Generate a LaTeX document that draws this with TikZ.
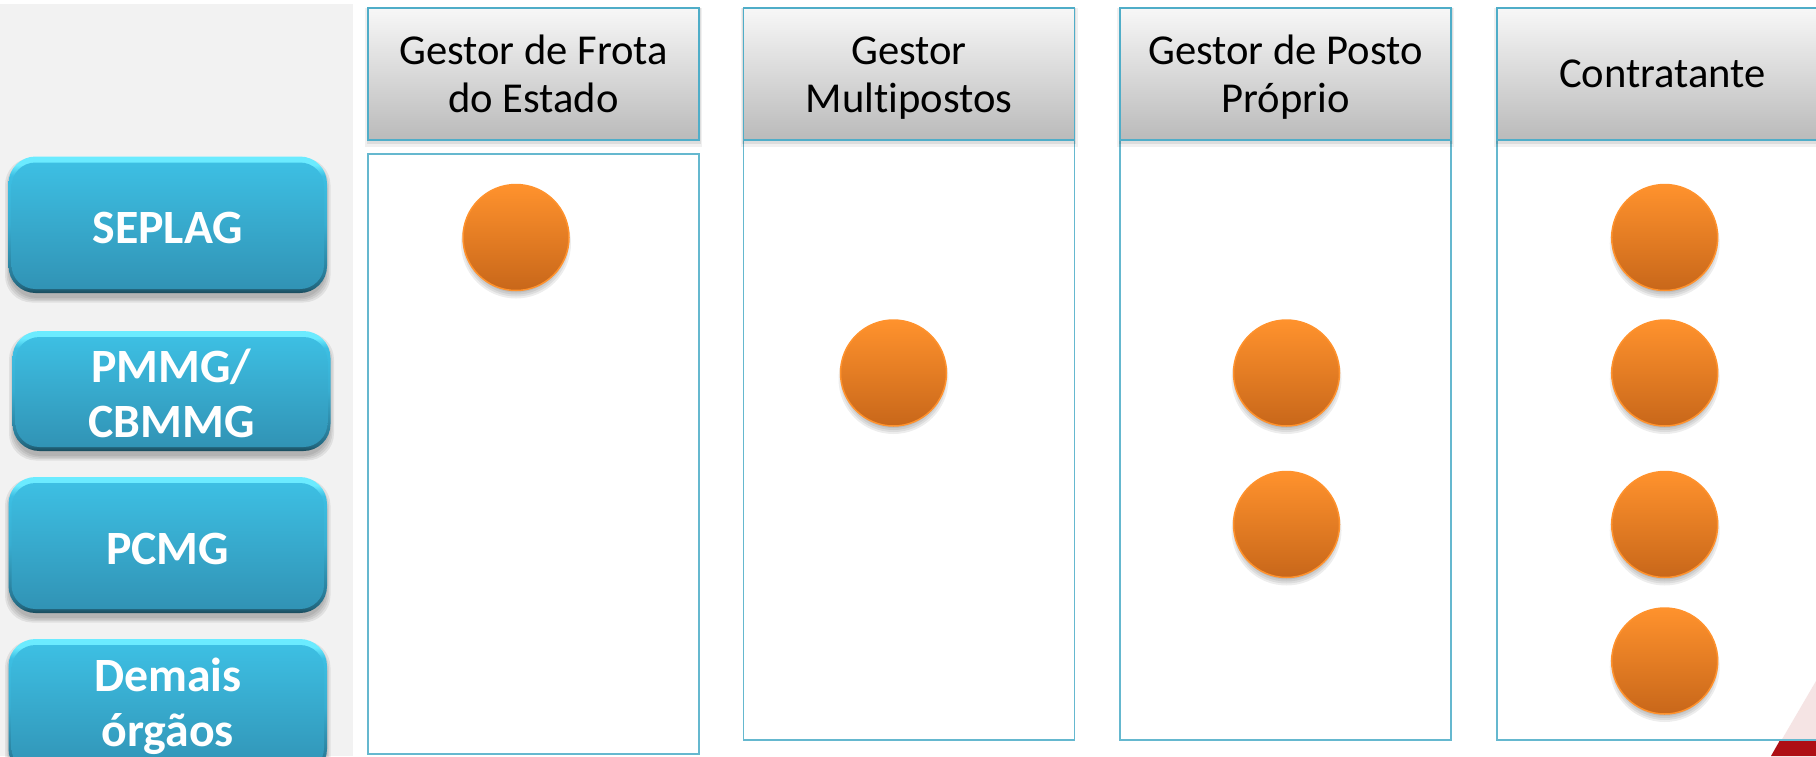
\documentclass[tikz,border=0pt]{standalone}
\usepackage{fontspec}
\setmainfont[Ligatures=NoCommon]{Carlito}
\usetikzlibrary{calc}
\definecolor{panelgrey}{HTML}{F2F2F2}
\definecolor{frameblue}{HTML}{65B8CF}
\definecolor{headblue}{HTML}{4FADC8}
\definecolor{btntop}{HTML}{3DBFE3}
\definecolor{btnbot}{HTML}{3193B5}
\definecolor{hicol}{HTML}{6BEBFF}
\definecolor{cirtop}{HTML}{FF922D}
\definecolor{cirbot}{HTML}{C8671A}
\definecolor{palelogo}{HTML}{F5E4E4}
\definecolor{redlogo}{HTML}{AE0F14}
\pgfdeclareverticalshading{bevelshade}{100bp}{color(0bp)=(btnbot!50!black);
  color(25bp)=(btnbot!50!black);color(27bp)=(btnbot!70!black);color(32bp)=(btnbot!85!black);color(50bp)=(btntop!60!btnbot);
  color(68bp)=(btntop);color(72bp)=(hicol);color(75bp)=(hicol);color(100bp)=(hicol)}
\tikzset{
  x=1pt,y=-1pt,
  colbody/.style={draw=frameblue,line width=1.7pt,fill=white},
  heading/.style={draw=headblue,line width=1.8pt,outer sep=0pt,top color=white!97!black,bottom color=white!73!black,
    inner sep=0pt},
  headtext/.style={align=center,font=\fontsize{42.6}{47.3}\selectfont,text=black,inner sep=0pt},
  btnouter/.style={rounded corners=27pt,shading=bevelshade},
  btninner/.style={rounded corners=24pt,top color=btntop,bottom color=btnbot},
  btntext/.style={font=\fontsize{47.8}{55}\selectfont\bfseries,text=white,align=center,inner sep=0pt},
  dotball/.style={circle,minimum size=106pt,inner sep=0pt,draw=cirtop,line width=1.5pt,top color=cirtop,bottom color=cirbot},
}
\newcommand{\softshadow}[5]{% x1 y1 x2 y2 radius
  \foreach \d in {0,1.5,3,4.5}{
    \fill[black,opacity=0.07,rounded corners=#5] (#1-\d+1,#2+6-\d) rectangle (#3+\d-1,#4+5+\d);
  }}
\newcommand{\dotshadow}[2]{%
  \foreach \d in {47,49,51,53,55}{
    \fill[black,opacity=0.07] (#1,#2+6) circle[radius=\d pt];
  }}
\newcommand{\btn}[7]{% name x1 y1 x2 y2 text-y text
  \softshadow{#2}{#3}{#4}{#5}{27pt}
  \path[btnouter] (#2,#3) rectangle (#4,#5);
  \path[btninner] (#2+3,#3+6) rectangle (#4-3,#5-4);
  \node[btntext] (#1) at (#2/2+#4/2,#6) {#7};
}
\newcommand{\colhead}[4]{% name xleft text-offset text
  \fill[black,opacity=.06] (#2-3,8) rectangle (#2+331+3,147);
  \fill[black,opacity=.08] (#2-1.5,8) rectangle (#2+331+1.5,144);
  \node[heading,minimum width=331pt,minimum height=132pt,anchor=north west] (#1) at (#2,8) {};
  \node[headtext] (#1t) at ($(#1.center)+(0,#3)$) {#4};
}
\begin{document}
\begin{tikzpicture}
\useasboundingbox (0,0) rectangle (1816,756);
\begin{scope}
\clip (0,0) rectangle (1816,756);
\fill[white] (0,0) rectangle (1816,756);
\fill[panelgrey] (0,3.5) rectangle (353,756);
% columns
\path[colbody] (368,154) rectangle (699,754);
\path[colbody] (743.5,140) rectangle (1074.5,740);
\path[colbody] (1120,140) rectangle (1451,740);
\path[colbody] (1497,140) rectangle (1828,740);
% logo
\fill[palelogo] (1816,681) -- (1781,741) -- (1816,741) -- cycle;
\fill[redlogo] (1779.5,741) -- (1816,741) -- (1816,756) -- (1771,756) -- cycle;
\draw[colbody,fill=none] (1497,140) rectangle (1828,740);
\colhead{h1}{368}{14.6}{\smash{Gestor de Frota}\\\smash{do Estado}}
\colhead{h2}{743.5}{14.6}{\smash{Gestor}\\\smash{Multipostos}}
\colhead{h3}{1120}{14.6}{\smash{Gestor de Posto}\\\smash{Próprio}}
\colhead{h4}{1497}{13.5}{\smash{Contratante}}
\btn{b1}{8.5}{156.5}{327}{293}{243}{\smash{SEPLAG}}
\btn{b2}{12.5}{331}{330.5}{451}{410}{\smash{PMMG/}\\\smash{CBMMG}}
\btn{b3}{8.5}{477}{327}{613}{564}{\smash{PCMG}}
\btn{b4}{8.5}{639}{327}{776}{719}{\smash{Demais}\\\smash{órgãos}}
\foreach \n/\cx/\cy in {a/516/237.5,b/893.5/373,c/1286.5/373,d/1286.5/524.5,e/1664.7/237.5,f/1664.7/373,g/1664.7/524.5,h/1664.7/661}{
  \dotshadow{\cx}{\cy}
  \node[dotball] (\n) at (\cx,\cy) {};
}
\end{scope}
\end{tikzpicture}
\end{document}
